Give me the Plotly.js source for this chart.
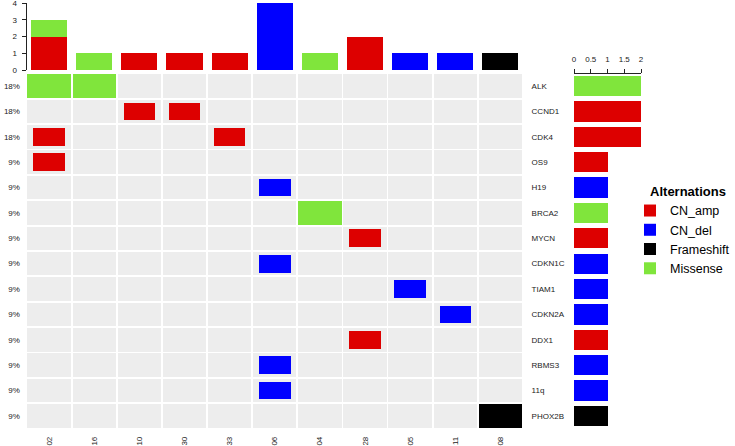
<!DOCTYPE html>
<html><head><meta charset="utf-8">
<script src="https://cdn.plot.ly/plotly-3.0.1.min.js"></script>
<style>html,body{margin:0;padding:0;background:#fff}#chart{width:735px;height:446px}</style>
</head><body><div id="chart"></div>
<script>
const samples = ['02','16','10','30','33','06','04','28','05','11','08'];
const genes = ['ALK','CCND1','CDK4','OS9','H19','BRCA2','MYCN','CDKN1C','TIAM1','CDKN2A','DDX1','RBMS3','11q','PHOX2B'];
const pctLabels = ['18%','18%','18%','9%','9%','9%','9%','9%','9%','9%','9%','9%','9%','9%'];

const ampSamples = ['10','30','02','33','02','28','28'];
const ampGenes   = ['CCND1','CCND1','CDK4','CDK4','OS9','MYCN','DDX1'];
const delSamples = ['06','06','05','11','06','06'];
const delGenes   = ['H19','CDKN1C','TIAM1','CDKN2A','RBMS3','11q'];
const fsSamples  = ['08'];
const fsGenes    = ['PHOX2B'];
const misSamples = ['02','16','04'];
const misGenes   = ['ALK','ALK','BRCA2'];

const topAmp = [2,0,1,1,1,0,0,2,0,0,0];
const topDel = [0,0,0,0,0,4,0,0,1,1,0];
const topFs  = [0,0,0,0,0,0,0,0,0,0,1];
const topMis = [1,1,0,0,0,0,1,0,0,0,0];

const rowAmp = [0,2,2,1,0,0,1,0,0,0,1,0,0,0];
const rowDel = [0,0,0,0,1,0,0,1,1,1,0,1,1,0];
const rowFs  = [0,0,0,0,0,0,0,0,0,0,0,0,0,1];
const rowMis = [2,0,0,0,0,1,0,0,0,0,0,0,0,0];

const types  = ['CN_amp','CN_del','Frameshift','Missense'];
const colors = ['#dd0000','#0000ff','#000000','#80e53c'];
const gray = '#ededed';
const FONT = 'Liberation Sans, Arial, Helvetica, sans-serif';

const W = 735, H = 446;
const px = v => v / W;
const py = v => (H - v) / H;

const CELL_W = 0.96, CELL_H = 0.93, CN_W = 0.70, CN_H = 0.70;

function cellTrace(xs, gs, w, h, color) {
  return {
    type: 'bar', x: xs,
    y: gs.map(() => h),
    base: gs.map(g => genes.indexOf(g) - h / 2),
    width: w, marker: {color: color, line: {width: 0}},
    xaxis: 'x', yaxis: 'y', showlegend: false, hoverinfo: 'skip'
  };
}

const bgX = [], bgG = [];
genes.forEach(g => samples.forEach(s => { bgX.push(s); bgG.push(g); }));

const traces = [
  cellTrace(bgX, bgG, CELL_W, CELL_H, gray),
  cellTrace(misSamples, misGenes, CELL_W, CELL_H, colors[3]),
  cellTrace(fsSamples, fsGenes, CELL_W, CELL_H, colors[2]),
  cellTrace(ampSamples, ampGenes, CN_W, CN_H, colors[0]),
  cellTrace(delSamples, delGenes, CN_W, CN_H, colors[1]),
  {type: 'scatter', mode: 'markers', x: genes.map(() => samples[0]), y: genes,
   marker: {opacity: 0}, xaxis: 'x', yaxis: 'y2', showlegend: false, hoverinfo: 'skip'}
];

const topVals = [topAmp, topDel, topFs, topMis];
const rowVals = [rowAmp, rowDel, rowFs, rowMis];
types.forEach((t, i) => {
  traces.push({type: 'bar', name: t, x: samples, y: topVals[i], width: 0.8,
    marker: {color: colors[i], line: {width: 0}}, xaxis: 'x2', yaxis: 'y3',
    showlegend: true, hoverinfo: 'skip'});
});
types.forEach((t, i) => {
  traces.push({type: 'bar', orientation: 'h', name: t, y: genes, x: rowVals[i], width: 0.8,
    marker: {color: colors[i], line: {width: 0}}, xaxis: 'x3', yaxis: 'y4',
    showlegend: false, hoverinfo: 'skip'});
});

const mainX = [px(26.5), px(523)];
const mainY = [py(428.5), py(73.5)];
const tickFont = {family: FONT, size: 8, color: '#222'};

const layout = {
  width: W, height: H,
  margin: {l: 0, r: 0, t: 0, b: 0},
  paper_bgcolor: '#fff', plot_bgcolor: 'rgba(0,0,0,0)',
  barmode: 'stack',
  font: {family: FONT},
  xaxis: {domain: mainX, type: 'category', categoryarray: samples, range: [-0.5, 10.5],
    anchor: 'y', showgrid: false, zeroline: false, showline: false,
    ticks: 'outside', ticklen: 4, tickcolor: 'rgba(0,0,0,0)', tickangle: -90,
    tickfont: tickFont},
  yaxis: {domain: mainY, range: [13.5, -0.5], anchor: 'x', showgrid: false, zeroline: false,
    tickvals: genes.map((g, i) => i), ticktext: pctLabels,
    ticks: 'outside', ticklen: 4, tickcolor: 'rgba(0,0,0,0)', tickfont: tickFont},
  yaxis2: {overlaying: 'y', side: 'right', anchor: 'x', type: 'category', categoryarray: genes,
    range: [13.5, -0.5], showgrid: false, zeroline: false,
    ticks: 'outside', ticklen: 6, tickcolor: 'rgba(0,0,0,0)', tickfont: tickFont},
  xaxis2: {domain: mainX, type: 'category', categoryarray: samples, range: [-0.5, 10.5],
    anchor: 'y3', showgrid: false, zeroline: false, showline: false, showticklabels: false, ticks: ''},
  yaxis3: {domain: [py(70), py(3)], range: [0, 4], anchor: 'x2', showgrid: false, zeroline: false,
    showline: true, linecolor: '#222', linewidth: 1, ticklabeloverflow: 'allow',
    tickvals: [0, 1, 2, 3, 4], ticks: 'outside', ticklen: 4, tickcolor: '#222',
    ticklabelstandoff: 3,
    tickfont: {family: FONT, size: 8, color: '#222'}},
  xaxis3: {domain: [px(574), px(641)], range: [0, 2], anchor: 'y4', side: 'top',
    showgrid: false, zeroline: false, showline: true, linecolor: '#222', linewidth: 1,
    tickvals: [0, 0.5, 1, 1.5, 2], ticktext: ['0', '0.5', '1', '1.5', '2'],
    ticks: 'outside', ticklen: 4, tickcolor: '#222', ticklabelstandoff: 3,
    tickfont: {family: FONT, size: 8, color: '#222'}},
  yaxis4: {domain: mainY, type: 'category', categoryarray: genes, range: [13.5, -0.5],
    anchor: 'x3', showgrid: false, zeroline: false, showline: false, showticklabels: false, ticks: ''},
  legend: {x: 1, xanchor: 'right', y: py(179), yanchor: 'top', traceorder: 'normal',
    bgcolor: 'rgba(0,0,0,0)', borderwidth: 0,
    font: {family: FONT, size: 12.5, color: '#000'},
    title: {text: '\u00a0\u00a0\u00a0\u00a0\u00a0Alternations', side: 'top',
      font: {family: FONT, size: 13, color: '#000', weight: 'bold'}}},
  showlegend: true
};

Plotly.newPlot('chart', traces, layout, {staticPlot: true, displayModeBar: false});
</script>
</body></html>
